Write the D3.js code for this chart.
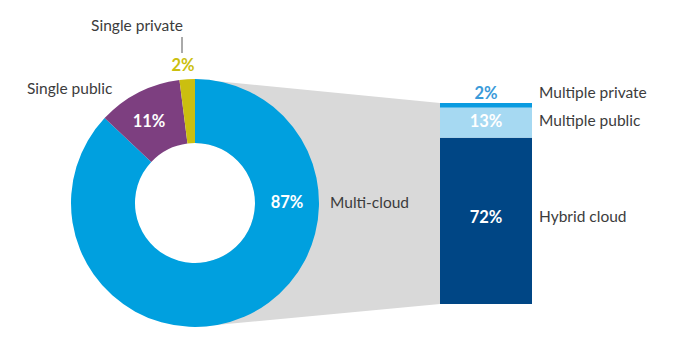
<!DOCTYPE html>
<html>
<head>
<meta charset="utf-8">
<script src="https://cdn.jsdelivr.net/npm/d3@7"></script>
<style>
  body { margin: 0; background: #fff; }
  text { font-family: Lato, "Open Sans", sans-serif; }
</style>
</head>
<body>
<script>
// donut data
var pieLabels = ["Multi-cloud", "Single public", "Single private"];
var pieValues = [87, 11, 2];
var pieColors = ["#00a0df", "#7d3f80", "#cbbf0f"];

// breakdown of multi-cloud
var barLabels = ["Hybrid cloud", "Multiple public", "Multiple private"];
var barValues = [72, 13, 2];
var barColors = ["#004685", "#a6d9f2", "#0a9be0"];

var w = 676;
var h = 354;
var cx = 195, cy = 203; // donut centre
var outerR = 124, innerR = 60;
var barX = 440, barW = 92;

var svg = d3.select("body")
    .append("svg")
    .attr("width", w)
    .attr("height", h);

var yScale = d3.scaleLinear()
    .domain([0, d3.sum(barValues)])
    .range([304, 103]);

// grey connector behind the donut
svg.append("path")
    .attr("d", "M" + cx + "," + (cy - outerR) +
               "L" + barX + "," + yScale(d3.sum(barValues)) +
               "L" + barX + "," + yScale(0) +
               "L" + cx + "," + (cy + outerR) + "Z")
    .attr("fill", "#d9d9d9");

var pie = d3.pie().sort(null);
var arc = d3.arc().innerRadius(innerR).outerRadius(outerR);
var arcs = pie(pieValues);

var g = svg.append("g")
    .attr("transform", "translate(" + cx + "," + cy + ")");

// white hole so the grey doesn't show through
g.append("circle")
    .attr("r", innerR)
    .attr("fill", "#fff");

g.selectAll("path")
    .data(arcs)
    .enter()
    .append("path")
    .attr("d", arc)
    .attr("fill", function(d, i) { return pieColors[i]; });

// stacked bar
var stacked = [];
var acc = 0;
barValues.forEach(function(v, i) {
    stacked.push({ y0: acc, y1: acc + v, i: i });
    acc += v;
});

svg.selectAll("rect.seg")
    .data(stacked)
    .enter()
    .append("rect")
    .attr("class", "seg")
    .attr("x", barX)
    .attr("width", barW)
    .attr("y", function(d) { return yScale(d.y1); })
    .attr("height", function(d) { return yScale(d.y0) - yScale(d.y1); })
    .attr("fill", function(d) { return barColors[d.i]; });

var labSize = "15.5px", valSize = "16.5px";

// donut labels
svg.append("text")
    .attr("x", 287).attr("y", 208)
    .attr("text-anchor", "middle")
    .attr("font-size", valSize).attr("font-weight", "bold")
    .attr("fill", "#fff")
    .text(pieValues[0] + "%");

svg.append("text")
    .attr("x", 330).attr("y", 208)
    .attr("font-size", labSize)
    .attr("fill", "#3c3c3c")
    .text(pieLabels[0]);

svg.append("text")
    .attr("x", 149).attr("y", 127)
    .attr("text-anchor", "middle")
    .attr("font-size", valSize).attr("font-weight", "bold")
    .attr("fill", "#fff")
    .text(pieValues[1] + "%");

svg.append("text")
    .attr("x", 27).attr("y", 94)
    .attr("font-size", labSize)
    .attr("fill", "#3c3c3c")
    .text(pieLabels[1]);

svg.append("text")
    .attr("x", 183).attr("y", 71)
    .attr("text-anchor", "middle")
    .attr("font-size", valSize).attr("font-weight", "bold")
    .attr("fill", pieColors[2])
    .text(pieValues[2] + "%");

svg.append("line")
    .attr("x1", 182).attr("x2", 182)
    .attr("y1", 37).attr("y2", 53)
    .attr("stroke", "#555").attr("stroke-width", 1);

svg.append("text")
    .attr("x", 137).attr("y", 31)
    .attr("text-anchor", "middle")
    .attr("font-size", labSize)
    .attr("fill", "#3c3c3c")
    .text(pieLabels[2]);

// bar labels
var valY = [223, 127, 99];
var valCol = ["#fff", "#fff", "#3a9ad9"];

svg.selectAll("text.bval")
    .data(barValues)
    .enter()
    .append("text")
    .attr("class", "bval")
    .attr("x", barX + barW / 2)
    .attr("y", function(d, i) { return valY[i]; })
    .attr("text-anchor", "middle")
    .attr("font-size", valSize).attr("font-weight", "bold")
    .attr("fill", function(d, i) { return valCol[i]; })
    .text(function(d) { return d + "%"; });

svg.selectAll("text.blab")
    .data(barLabels)
    .enter()
    .append("text")
    .attr("class", "blab")
    .attr("x", 539)
    .attr("y", function(d, i) { return valY[i] - 1; })
    .attr("font-size", labSize)
    .attr("fill", "#3c3c3c")
    .text(function(d) { return d; });
</script>
</body>
</html>
